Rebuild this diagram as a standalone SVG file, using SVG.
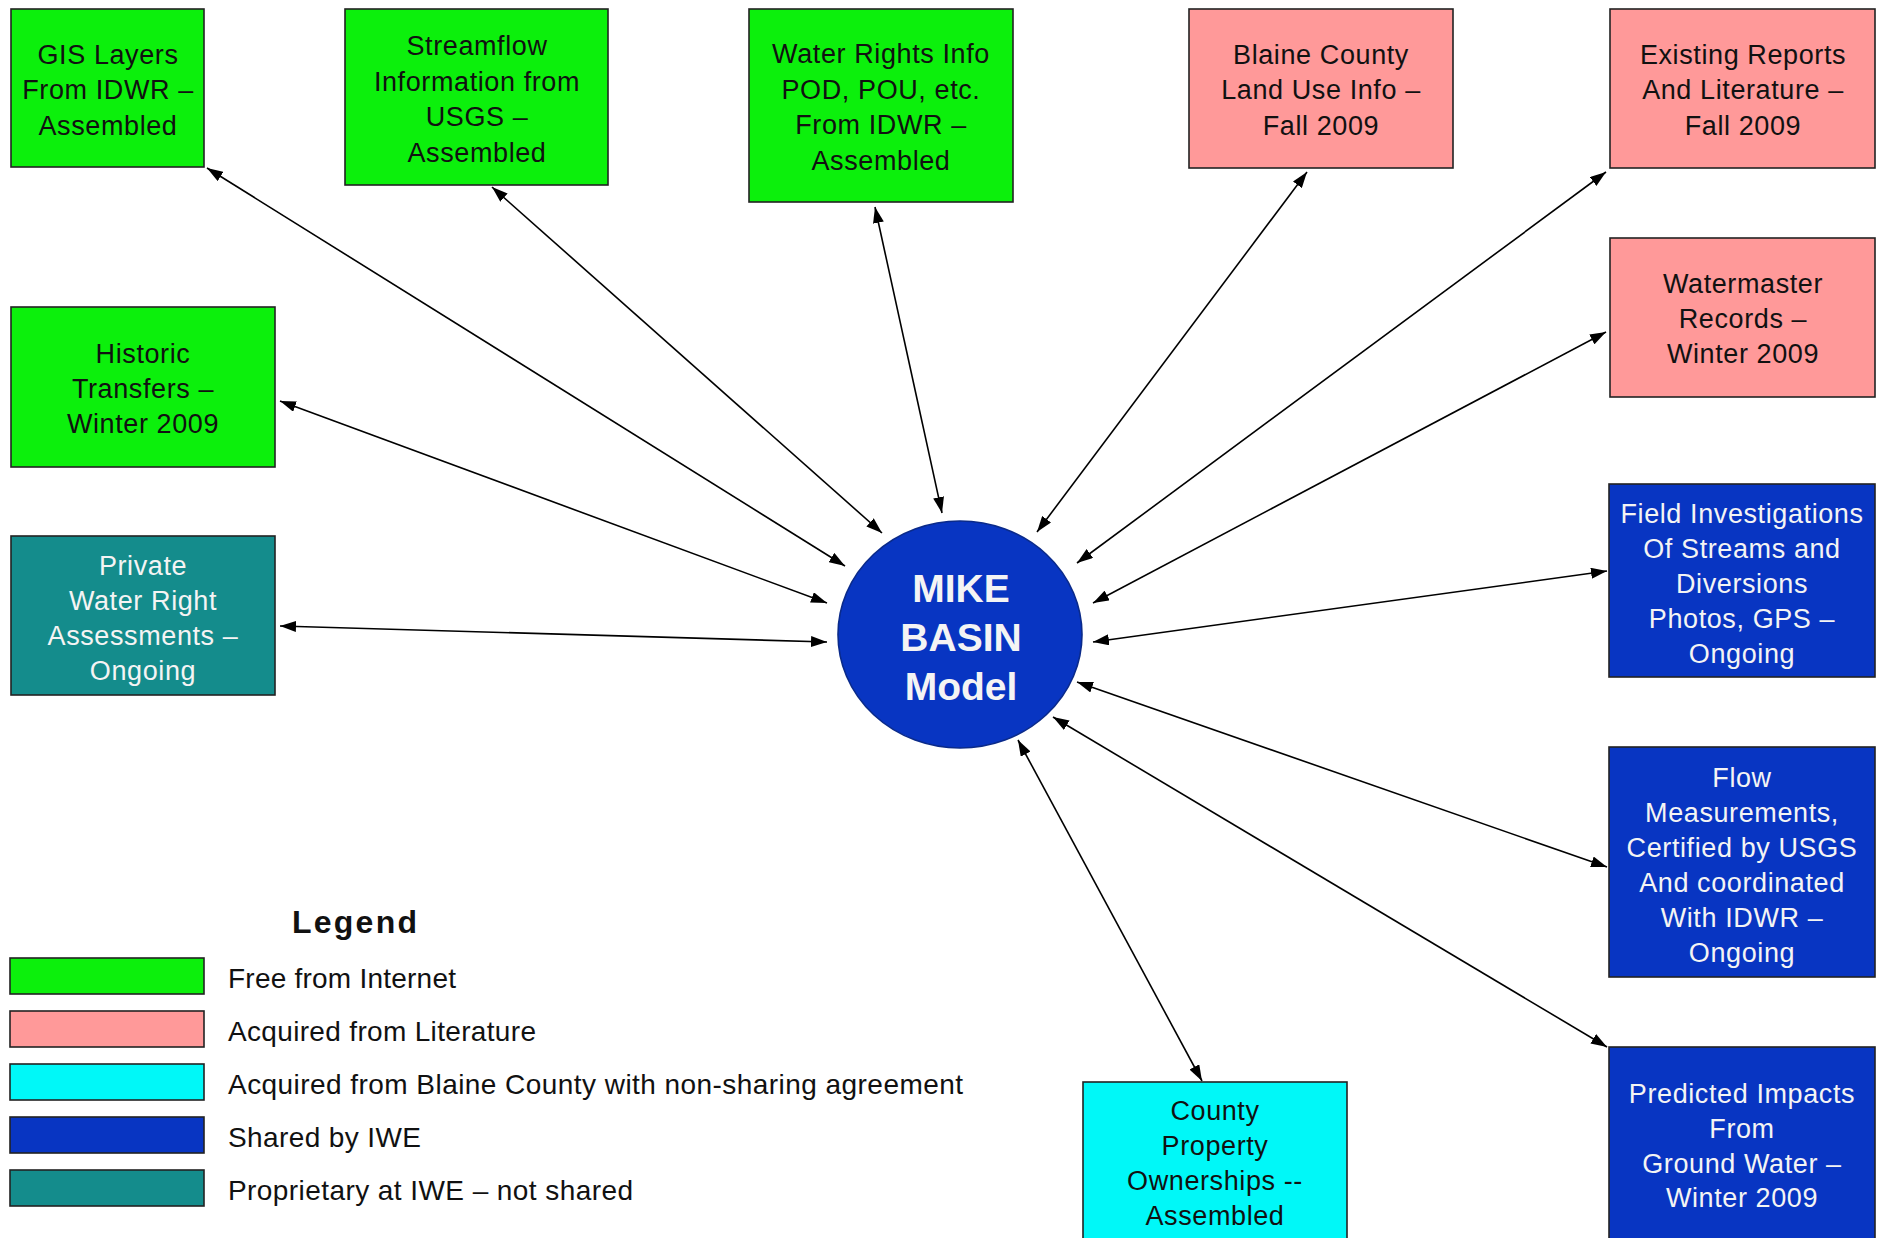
<svg xmlns="http://www.w3.org/2000/svg" width="1879" height="1238" viewBox="0 0 1879 1238">
<defs>
<style>
.box{stroke:#222;stroke-width:1.6}
.g{fill:#0CF00C}
.p{fill:#FF9999}
.c{fill:#00F8F8}
.b{fill:#0835C2}
.t{fill:#148C8C}
.txt{font-family:"Liberation Sans",Arial,sans-serif;font-size:27px;letter-spacing:0.6px;text-anchor:middle}
.dk{fill:#111}
.wh{fill:#F4F4F4}
.conn{stroke:#000;stroke-width:1.6;fill:none;marker-start:url(#ah);marker-end:url(#ah)}
.leg{font-family:"Liberation Sans",Arial,sans-serif;font-size:28px;fill:#111}
</style>
<marker id="ah" viewBox="0 0 16 11" refX="16" refY="5.5" markerWidth="16" markerHeight="11" markerUnits="userSpaceOnUse" orient="auto-start-reverse">
<path d="M0,0 L16,5.5 L0,11 z" fill="#000"/>
</marker>
</defs>
<rect width="1879" height="1238" fill="#fff"/>

<g id="connectors">
<line class="conn" x1="207" y1="168" x2="845" y2="566"/>
<line class="conn" x1="492" y1="187" x2="882" y2="533"/>
<line class="conn" x1="875" y1="207" x2="942" y2="513"/>
<line class="conn" x1="280" y1="401" x2="827" y2="603"/>
<line class="conn" x1="280" y1="626" x2="827" y2="642"/>
<line class="conn" x1="1307" y1="172" x2="1037" y2="532"/>
<line class="conn" x1="1606" y1="172" x2="1077" y2="563"/>
<line class="conn" x1="1606" y1="332" x2="1093" y2="603"/>
<line class="conn" x1="1607" y1="571" x2="1093" y2="642"/>
<line class="conn" x1="1607" y1="867" x2="1077" y2="682"/>
<line class="conn" x1="1607" y1="1047" x2="1053" y2="717"/>
<line class="conn" x1="1202" y1="1081" x2="1018" y2="740"/>
</g>

<g id="gis">
<rect class="box g" x="11" y="9" width="193" height="158"/>
<text class="txt dk"><tspan x="108" y="64">GIS Layers</tspan><tspan x="108" y="99">From IDWR –</tspan><tspan x="108" y="135">Assembled</tspan></text>
</g>
<g id="streamflow">
<rect class="box g" x="345" y="9" width="263" height="176"/>
<text class="txt dk"><tspan x="477" y="55">Streamflow</tspan><tspan x="477" y="91">Information from</tspan><tspan x="477" y="126">USGS –</tspan><tspan x="477" y="162">Assembled</tspan></text>
</g>
<g id="waterrights">
<rect class="box g" x="749" y="9" width="264" height="193"/>
<text class="txt dk"><tspan x="881" y="63">Water Rights Info</tspan><tspan x="881" y="99">POD, POU, etc.</tspan><tspan x="881" y="134">From IDWR –</tspan><tspan x="881" y="170">Assembled</tspan></text>
</g>
<g id="blaine">
<rect class="box p" x="1189" y="9" width="264" height="159"/>
<text class="txt dk"><tspan x="1321" y="64">Blaine County</tspan><tspan x="1321" y="99">Land Use Info –</tspan><tspan x="1321" y="135">Fall 2009</tspan></text>
</g>
<g id="existing">
<rect class="box p" x="1610" y="9" width="265" height="159"/>
<text class="txt dk"><tspan x="1743" y="64">Existing Reports</tspan><tspan x="1743" y="99">And Literature –</tspan><tspan x="1743" y="135">Fall 2009</tspan></text>
</g>
<g id="watermaster">
<rect class="box p" x="1610" y="238" width="265" height="159"/>
<text class="txt dk"><tspan x="1743" y="293">Watermaster</tspan><tspan x="1743" y="328">Records –</tspan><tspan x="1743" y="363">Winter 2009</tspan></text>
</g>
<g id="historic">
<rect class="box g" x="11" y="307" width="264" height="160"/>
<text class="txt dk"><tspan x="143" y="363">Historic</tspan><tspan x="143" y="398">Transfers –</tspan><tspan x="143" y="433">Winter 2009</tspan></text>
</g>
<g id="private">
<rect class="box t" x="11" y="536" width="264" height="159"/>
<text class="txt wh"><tspan x="143" y="575">Private</tspan><tspan x="143" y="610">Water Right</tspan><tspan x="143" y="645">Assessments –</tspan><tspan x="143" y="680">Ongoing</tspan></text>
</g>
<g id="field">
<rect class="box b" x="1609" y="484" width="266" height="193"/>
<text class="txt wh"><tspan x="1742" y="523">Field Investigations</tspan><tspan x="1742" y="558">Of Streams and</tspan><tspan x="1742" y="593">Diversions</tspan><tspan x="1742" y="628">Photos, GPS –</tspan><tspan x="1742" y="663">Ongoing</tspan></text>
</g>
<g id="flow">
<rect class="box b" x="1609" y="747" width="266" height="230"/>
<text class="txt wh"><tspan x="1742" y="787">Flow</tspan><tspan x="1742" y="822">Measurements,</tspan><tspan x="1742" y="857">Certified by USGS</tspan><tspan x="1742" y="892">And coordinated</tspan><tspan x="1742" y="927">With IDWR –</tspan><tspan x="1742" y="962">Ongoing</tspan></text>
</g>
<g id="predicted">
<rect class="box b" x="1609" y="1047" width="266" height="200"/>
<text class="txt wh"><tspan x="1742" y="1103">Predicted Impacts</tspan><tspan x="1742" y="1138">From</tspan><tspan x="1742" y="1173">Ground Water –</tspan><tspan x="1742" y="1207">Winter 2009</tspan></text>
</g>
<g id="county">
<rect class="box c" x="1083" y="1082" width="264" height="165"/>
<text class="txt dk"><tspan x="1215" y="1120">County</tspan><tspan x="1215" y="1155">Property</tspan><tspan x="1215" y="1190">Ownerships --</tspan><tspan x="1215" y="1225">Assembled</tspan></text>
</g>
<g id="mike">
<ellipse cx="960" cy="634.5" rx="122" ry="113.5" fill="#0835C2" stroke="#0A2A8A" stroke-width="1.6"/>
<text font-family="Liberation Sans,Arial,sans-serif" font-size="39" font-weight="bold" fill="#F4F4F4" text-anchor="middle"><tspan x="961" y="602">MIKE</tspan><tspan x="961" y="651">BASIN</tspan><tspan x="961" y="700">Model</tspan></text>
</g>

<g id="legend">
<text x="292" y="933" font-family="Liberation Sans,Arial,sans-serif" font-size="32" font-weight="bold" fill="#111" textLength="125" lengthAdjust="spacing">Legend</text>
<rect class="box g" x="10" y="958" width="194" height="36"/>
<rect class="box p" x="10" y="1011" width="194" height="36"/>
<rect class="box c" x="10" y="1064" width="194" height="36"/>
<rect class="box b" x="10" y="1117" width="194" height="36"/>
<rect class="box t" x="10" y="1170" width="194" height="36"/>
<text class="leg" x="228" y="988" textLength="228" lengthAdjust="spacing">Free from Internet</text>
<text class="leg" x="228" y="1041" textLength="308" lengthAdjust="spacing">Acquired from Literature</text>
<text class="leg" x="228" y="1094" textLength="735" lengthAdjust="spacing">Acquired from Blaine County with non-sharing agreement</text>
<text class="leg" x="228" y="1147" textLength="193" lengthAdjust="spacing">Shared by IWE</text>
<text class="leg" x="228" y="1200" textLength="405" lengthAdjust="spacing">Proprietary at IWE – not shared</text>
</g>
</svg>
